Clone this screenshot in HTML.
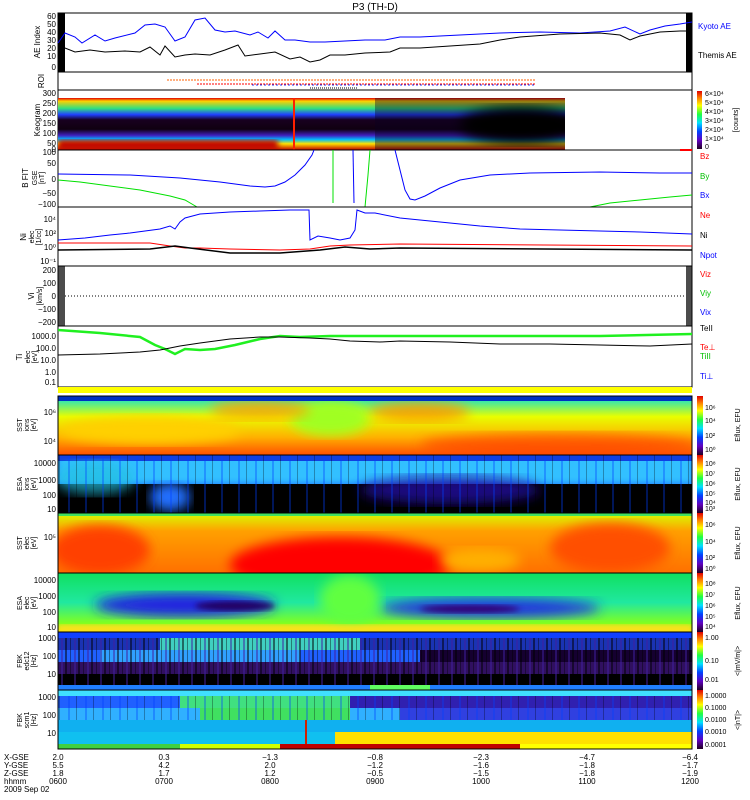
<!DOCTYPE html>
<html><head><meta charset="utf-8"><style>
body{margin:0;background:#fff;}
svg{display:block;font-family:"Liberation Sans",sans-serif;}
.l{font-size:8px;fill:#000;}
.t{font-size:8px;}
</style></head><body>
<svg width="750" height="800" xmlns="http://www.w3.org/2000/svg">
<defs>
<filter id="b6"><feGaussianBlur stdDeviation="6"/></filter>
<filter id="b3"><feGaussianBlur stdDeviation="3"/></filter>
<clipPath id="c1"><rect x="58" y="396" width="634" height="59"/></clipPath>
<clipPath id="c2"><rect x="58" y="455" width="634" height="58"/></clipPath>
<clipPath id="c3"><rect x="58" y="513" width="634" height="60"/></clipPath>
<clipPath id="c4"><rect x="58" y="573" width="634" height="59"/></clipPath>
<clipPath id="ck"><rect x="58" y="98" width="507" height="52"/></clipPath>
<pattern id="st" width="13" height="10" patternUnits="userSpaceOnUse"><rect x="0" y="0" width="2" height="10" fill="#000" opacity="0.5"/><rect x="5" y="0" width="1" height="10" fill="#000" opacity="0.4"/><rect x="9" y="0" width="2" height="10" fill="#4020a0" opacity="0.5"/></pattern>
<pattern id="st2" width="17" height="10" patternUnits="userSpaceOnUse"><rect x="0" y="0" width="2" height="10" fill="#0040ff" opacity="0.35"/><rect x="8" y="0" width="1" height="10" fill="#000" opacity="0.3"/></pattern>
<linearGradient id="g1" x1="0" y1="0" x2="0" y2="1"><stop offset="0" stop-color="#00e0e0"/><stop offset="0.35" stop-color="#e8ff00"/><stop offset="0.7" stop-color="#ffb000"/><stop offset="1" stop-color="#ff5000"/></linearGradient>
<linearGradient id="g3" x1="0" y1="0" x2="0" y2="1"><stop offset="0" stop-color="#d8ff00"/><stop offset="0.3" stop-color="#ffa000"/><stop offset="1" stop-color="#ff7000"/></linearGradient>
<linearGradient id="g4" x1="0" y1="0" x2="0" y2="1"><stop offset="0" stop-color="#10e060"/><stop offset="0.5" stop-color="#20e8a0"/><stop offset="0.85" stop-color="#80ff20"/><stop offset="1" stop-color="#ffe000"/></linearGradient>
<linearGradient id="gk" x1="0" y1="0" x2="0" y2="1"><stop offset="0" stop-color="#e00000"/><stop offset="0.06" stop-color="#ffd000"/><stop offset="0.2" stop-color="#30e080"/><stop offset="0.32" stop-color="#2040ff"/><stop offset="0.42" stop-color="#180020"/><stop offset="0.6" stop-color="#100010"/><stop offset="0.72" stop-color="#4020c0"/><stop offset="0.8" stop-color="#00c0ff"/><stop offset="0.88" stop-color="#ffe000"/><stop offset="1" stop-color="#c00000"/></linearGradient>
<linearGradient id="cb" x1="0" y1="1" x2="0" y2="0"><stop offset="0" stop-color="#200020"/><stop offset="0.15" stop-color="#6000c0"/><stop offset="0.3" stop-color="#0040ff"/><stop offset="0.45" stop-color="#00e0ff"/><stop offset="0.6" stop-color="#20ff40"/><stop offset="0.75" stop-color="#ffff00"/><stop offset="0.88" stop-color="#ff8000"/><stop offset="1" stop-color="#e00000"/></linearGradient>
</defs>

<text x="375" y="10" text-anchor="middle" style="font-size:10px">P3 (TH-D)</text>

<!-- AE panel -->
<rect x="58" y="13" width="634" height="59" fill="none" stroke="#000"/>
<rect x="58" y="13" width="7" height="59" fill="#000"/>
<rect x="686" y="13" width="6" height="59" fill="#000"/>
<polyline fill="none" stroke="#0000ff" stroke-width="1" points="58,43 65,33 75,37 82,43 95,35 105,41 115,38 135,33 145,25 155,24 165,27 175,41 185,37 195,20 205,18 215,30 225,32 235,31 250,35 258,32 268,38 275,31 285,40 295,40 310,42 325,42 345,41 365,40 385,40 400,37 420,37 440,36 460,35 500,33 540,32 580,33 610,31 625,27 640,34 650,30 665,26 680,24 692,22"/>
<polyline fill="none" stroke="#000" stroke-width="1" points="58,50 65,48 75,52 90,50 105,52 125,51 140,52 150,47 160,55 165,46 175,57 185,55 195,54 210,55 225,50 238,45 245,56 260,54 275,52 290,59 300,57 310,62 320,60 330,55 345,55 365,53 390,52 400,48 420,48 450,46 480,44 500,40 520,37 560,34 600,33 620,35 630,40 640,36 660,32 680,31 692,31"/>
<g class="l" text-anchor="end"><text x="56" y="19">60</text><text x="56" y="27">50</text><text x="56" y="35">40</text><text x="56" y="43">30</text><text x="56" y="51">20</text><text x="56" y="59">10</text><text x="56" y="70">0</text></g>
<text class="l" transform="translate(40,42) rotate(-90)" text-anchor="middle">AE Index</text>
<text x="698" y="29" class="t" fill="#0000ff">Kyoto AE</text>
<text x="698" y="58" class="t" fill="#000">Themis AE</text>

<!-- ROI -->
<rect x="58" y="72" width="634" height="18" fill="none" stroke="#000"/>
<line x1="167" y1="80" x2="535" y2="80" stroke="#ff6000" stroke-dasharray="2,1"/>
<line x1="197" y1="84" x2="535" y2="84" stroke="#ff0000" stroke-dasharray="2,1"/>
<line x1="252" y1="85" x2="535" y2="85" stroke="#2040ff" stroke-dasharray="2,2"/>
<line x1="310" y1="88" x2="357" y2="88" stroke="#000" stroke-dasharray="1,1"/>
<text class="l" transform="translate(44,81) rotate(-90)" text-anchor="middle">ROI</text>

<!-- Keogram -->
<rect x="58" y="90" width="634" height="60" fill="none" stroke="#000"/>
<rect x="58" y="98" width="507" height="52" fill="url(#gk)"/>
<g clip-path="url(#ck)">
<rect x="58" y="140" width="220" height="10" fill="#c00000" filter="url(#b3)"/>
<rect x="375" y="98" width="190" height="52" fill="#0a0020" opacity="0.4"/>
<ellipse cx="520" cy="125" rx="60" ry="18" fill="#000" filter="url(#b6)"/>
</g>
<rect x="293" y="98" width="2" height="52" fill="#ff2000"/>
<g class="l" text-anchor="end"><text x="56" y="96">300</text><text x="56" y="106">250</text><text x="56" y="116">200</text><text x="56" y="126">150</text><text x="56" y="136">100</text><text x="56" y="146">50</text><text x="56" y="152">0</text></g>
<text class="l" transform="translate(40,120) rotate(-90)" text-anchor="middle">Keogram</text>
<rect x="697" y="91" width="5" height="58" fill="url(#cb)"/>
<g class="t" style="font-size:7px"><text x="705" y="96">6×10⁴</text><text x="705" y="105">5×10⁴</text><text x="705" y="114">4×10⁴</text><text x="705" y="123">3×10⁴</text><text x="705" y="132">2×10⁴</text><text x="705" y="141">1×10⁴</text><text x="705" y="149">0</text></g>
<text class="t" style="font-size:7px" transform="translate(738,120) rotate(-90)" text-anchor="middle">[counts]</text>

<!-- B -->
<rect x="58" y="150" width="634" height="57" fill="none" stroke="#000"/>
<line x1="680" y1="150" x2="692" y2="150" stroke="#ff0000" stroke-width="2"/>
<polyline fill="none" stroke="#0000ff" points="58,174 130,175 180,178 220,182 250,186 265,187 275,186 285,182 295,175 305,165 312,155 314,150"/>
<polyline fill="none" stroke="#0000ff" points="395,150 400,170 405,190 410,199 415,200 425,196 440,188 460,180 490,175 530,173 600,172 660,173 692,173"/>
<line x1="353" y1="150" x2="354" y2="203" stroke="#0000ff"/>
<polyline fill="none" stroke="#00e000" points="58,180 80,182 110,186 140,190 170,196 185,200 197,207"/>
<line x1="333" y1="150" x2="333" y2="203" stroke="#00e000"/>
<polyline fill="none" stroke="#00e000" points="365,207 368,175 370,150"/>
<polyline fill="none" stroke="#00e000" points="590,207 610,203 640,200 670,197 692,195"/>
<g class="l" text-anchor="end"><text x="56" y="155">100</text><text x="56" y="166">50</text><text x="56" y="182">0</text><text x="56" y="196">−50</text><text x="56" y="207">−100</text></g>
<text class="l" transform="translate(28,178) rotate(-90)" text-anchor="middle">B FIT</text>
<text class="l" style="font-size:7px" transform="translate(37,178) rotate(-90)" text-anchor="middle">GSE</text>
<text class="l" style="font-size:7px" transform="translate(44,178) rotate(-90)" text-anchor="middle">[nT]</text>
<text x="700" y="159" class="t" fill="#ff0000">Bz</text>
<text x="700" y="179" class="t" fill="#00c000">By</text>
<text x="700" y="198" class="t" fill="#0000ff">Bx</text>

<!-- Ni -->
<rect x="58" y="207" width="634" height="59" fill="none" stroke="#000"/>
<polyline fill="none" stroke="#0000ff" points="58,240 85,238 110,235 130,233 160,229 170,226 175,229 180,222 185,218 200,214 230,212 260,211 290,210 309,210 310,240 318,236 330,238 340,240 350,238 355,230 357,210 365,213 375,213 400,218 440,222 480,226 520,229 560,230 600,231 640,232 692,234"/>
<polyline fill="none" stroke="#ff0000" points="58,243 150,243 170,246 185,248 200,248 230,249 280,250 310,249 330,246 350,245 400,244 692,246"/>
<polyline fill="none" stroke="#000" stroke-width="1.5" points="58,250 150,249 175,246 190,248 230,253 280,253 320,250 345,247 370,249 400,248 692,250"/>
<g class="l" text-anchor="end"><text x="56" y="222">10⁴</text><text x="56" y="236">10²</text><text x="56" y="250">10⁰</text><text x="56" y="264">10⁻¹</text></g>
<text class="l" transform="translate(26,237) rotate(-90)" text-anchor="middle">Ni</text>
<text class="l" style="font-size:7px" transform="translate(34,237) rotate(-90)" text-anchor="middle">elec</text>
<text class="l" style="font-size:7px" transform="translate(41,237) rotate(-90)" text-anchor="middle">[1/cc]</text>
<text x="700" y="218" class="t" fill="#ff0000">Ne</text>
<text x="700" y="238" class="t" fill="#000">Ni</text>
<text x="700" y="258" class="t" fill="#0000ff">Npot</text>

<!-- Vi -->
<rect x="58" y="266" width="634" height="60" fill="none" stroke="#000"/>
<rect x="58" y="266" width="7" height="60" fill="#000" opacity="0.7"/>
<rect x="686" y="266" width="6" height="60" fill="#000" opacity="0.7"/>
<line x1="65" y1="296" x2="686" y2="296" stroke="#000" stroke-dasharray="1,2"/>
<g class="l" text-anchor="end"><text x="56" y="273">200</text><text x="56" y="286">100</text><text x="56" y="299">0</text><text x="56" y="312">−100</text><text x="56" y="325">−200</text></g>
<text class="l" transform="translate(34,296) rotate(-90)" text-anchor="middle">Vi</text>
<text class="l" style="font-size:7px" transform="translate(42,296) rotate(-90)" text-anchor="middle">[km/s]</text>
<text x="700" y="277" class="t" fill="#ff0000">Viz</text>
<text x="700" y="296" class="t" fill="#00c000">Viy</text>
<text x="700" y="315" class="t" fill="#0000ff">Vix</text>

<!-- Ti -->
<rect x="58" y="326" width="634" height="61" fill="none" stroke="#000"/>
<polyline fill="none" stroke="#20f020" stroke-width="2.5" points="58,330 100,333 140,337 155,345 165,349 175,354 185,349 200,350 215,349 235,345 260,339 280,336 300,337 330,336 370,336 420,336 500,336 600,336 692,334"/>
<polyline fill="none" stroke="#000" points="58,355 100,354 140,352 160,350 170,348 180,346 200,343 230,339 260,337 280,337 310,338 330,339 350,341 380,342 400,341 450,342 500,344 550,344 600,345 650,346 692,344"/>
<g class="l" text-anchor="end"><text x="56" y="339">1000.0</text><text x="56" y="351">100.0</text><text x="56" y="363">10.0</text><text x="56" y="375">1.0</text><text x="56" y="385">0.1</text></g>
<text class="l" transform="translate(22,357) rotate(-90)" text-anchor="middle">Ti</text>
<text class="l" style="font-size:7px" transform="translate(30,357) rotate(-90)" text-anchor="middle">elec</text>
<text class="l" style="font-size:7px" transform="translate(37,357) rotate(-90)" text-anchor="middle">[eV]</text>
<text x="700" y="331" class="t" fill="#000">TeII</text>
<text x="700" y="350" class="t" fill="#ff0000">Te⊥</text>
<text x="700" y="359" class="t" fill="#00c000">TiII</text>
<text x="700" y="379" class="t" fill="#0000ff">Ti⊥</text>

<rect x="58" y="387" width="634" height="6" fill="#ffff00"/>

<!-- SST1 -->
<g clip-path="url(#c1)">
<rect x="58" y="396" width="634" height="59" fill="url(#g1)"/>
<ellipse cx="150" cy="430" rx="90" ry="14" fill="#ffd000" filter="url(#b6)"/>
<ellipse cx="330" cy="418" rx="40" ry="18" fill="#a0ff20" filter="url(#b6)"/>
<ellipse cx="260" cy="410" rx="50" ry="10" fill="#ffa000" filter="url(#b6)" opacity="0.8"/>
<ellipse cx="420" cy="412" rx="50" ry="10" fill="#ff9000" filter="url(#b6)" opacity="0.8"/>
<ellipse cx="560" cy="445" rx="140" ry="12" fill="#ff4000" filter="url(#b6)" opacity="0.7"/>
<rect x="58" y="396" width="634" height="5" fill="#0030c0"/>
</g>
<rect x="58" y="396" width="634" height="59" fill="none" stroke="#000"/>

<!-- ESA1 -->
<g clip-path="url(#c2)">
<rect x="58" y="455" width="634" height="58" fill="#2080ff"/>
<rect x="58" y="455" width="634" height="28" fill="#30c0ff" filter="url(#b3)"/>
<rect x="58" y="455" width="634" height="6" fill="#1040e0"/>
<rect x="58" y="484" width="634" height="29" fill="#000"/>
<ellipse cx="95" cy="478" rx="40" ry="16" fill="#20c0e0" filter="url(#b6)" opacity="0.7"/>
<ellipse cx="170" cy="497" rx="20" ry="14" fill="#2070ff" filter="url(#b6)"/>
<ellipse cx="450" cy="490" rx="90" ry="14" fill="#2010a0" filter="url(#b6)" opacity="0.8"/>
<rect x="58" y="455" width="634" height="58" fill="url(#st2)"/>
</g>
<rect x="58" y="455" width="634" height="58" fill="none" stroke="#000"/>

<!-- SST2 -->
<g clip-path="url(#c3)">
<rect x="58" y="513" width="634" height="60" fill="url(#g3)"/>
<ellipse cx="340" cy="565" rx="110" ry="28" fill="#ff0000" filter="url(#b6)"/>
<ellipse cx="100" cy="550" rx="50" ry="25" fill="#ff4000" filter="url(#b6)"/>
<ellipse cx="610" cy="548" rx="60" ry="25" fill="#ff5000" filter="url(#b6)"/>
<ellipse cx="480" cy="560" rx="40" ry="12" fill="#ffb000" filter="url(#b6)"/>
<rect x="58" y="513" width="634" height="3" fill="#40e060"/>
</g>
<rect x="58" y="513" width="634" height="60" fill="none" stroke="#000"/>

<!-- ESA2 -->
<g clip-path="url(#c4)">
<rect x="58" y="573" width="634" height="59" fill="url(#g4)"/>
<ellipse cx="185" cy="605" rx="90" ry="12" fill="#2020e0" filter="url(#b6)"/>
<ellipse cx="235" cy="606" rx="40" ry="5" fill="#200060" filter="url(#b3)"/>
<ellipse cx="490" cy="608" rx="110" ry="10" fill="#2030e0" filter="url(#b6)"/>
<ellipse cx="470" cy="609" rx="50" ry="4" fill="#300070" filter="url(#b3)"/>
<ellipse cx="350" cy="600" rx="30" ry="25" fill="#60ff40" filter="url(#b6)"/>
<rect x="58" y="625" width="634" height="7" fill="#ffe020" filter="url(#b3)"/>
</g>
<rect x="58" y="573" width="634" height="59" fill="none" stroke="#000"/>

<!-- FBK1 -->
<rect x="58" y="632" width="634" height="58" fill="#000"/>
<rect x="58" y="632" width="634" height="6" fill="#1040ff"/>
<rect x="58" y="638" width="634" height="12" fill="#2040e0" opacity="0.8"/>
<rect x="160" y="638" width="200" height="12" fill="#40d0c0"/>
<rect x="58" y="650" width="634" height="12" fill="#2060ff"/>
<rect x="100" y="650" width="200" height="12" fill="#30a0ff"/>
<rect x="420" y="650" width="272" height="12" fill="#150030"/>
<rect x="58" y="662" width="634" height="12" fill="#301060"/>
<rect x="58" y="638" width="634" height="47" fill="url(#st)"/>
<rect x="58" y="685" width="634" height="5" fill="#2080ff"/>
<rect x="370" y="685" width="60" height="5" fill="#60ff60"/>
<rect x="58" y="632" width="634" height="58" fill="none" stroke="#000"/>

<!-- FBK2 -->
<rect x="58" y="690" width="634" height="59" fill="#20c0ff"/>
<rect x="58" y="690" width="634" height="6" fill="#40e0ff"/>
<rect x="58" y="696" width="634" height="12" fill="#2060ff"/>
<rect x="180" y="696" width="170" height="12" fill="#40e080"/>
<rect x="350" y="696" width="342" height="12" fill="#3020b0"/>
<rect x="58" y="708" width="634" height="12" fill="#30b0ff"/>
<rect x="200" y="708" width="150" height="12" fill="#40e060"/>
<rect x="400" y="708" width="292" height="12" fill="#3040e0"/>
<rect x="58" y="720" width="634" height="12" fill="#10b0f0"/>
<rect x="58" y="732" width="634" height="12" fill="#10c0f0"/>
<rect x="335" y="732" width="357" height="12" fill="#ffe000"/>
<rect x="58" y="696" width="634" height="24" fill="url(#st2)"/>
<rect x="58" y="744" width="634" height="5" fill="#40d040"/>
<rect x="180" y="744" width="100" height="5" fill="#d0ff00"/>
<rect x="280" y="744" width="240" height="5" fill="#c00000"/>
<rect x="520" y="744" width="172" height="5" fill="#ffff00"/>
<rect x="305" y="720" width="2" height="24" fill="#d02000"/>
<rect x="58" y="690" width="634" height="59" fill="none" stroke="#000"/>

<!-- spectrogram labels -->
<g class="l" text-anchor="end">
<text x="56" y="415">10⁶</text><text x="56" y="444">10⁴</text>
<text x="56" y="466">10000</text><text x="56" y="483">1000</text><text x="56" y="498">100</text><text x="56" y="512">10</text>
<text x="56" y="540">10⁵</text>
<text x="56" y="583">10000</text><text x="56" y="599">1000</text><text x="56" y="615">100</text><text x="56" y="630">10</text>
<text x="56" y="641">1000</text><text x="56" y="659">100</text><text x="56" y="677">10</text>
<text x="56" y="700">1000</text><text x="56" y="718">100</text><text x="56" y="736">10</text>
</g>
<g class="l" style="font-size:7px" text-anchor="middle">
<text transform="translate(22,425) rotate(-90)">SST</text><text transform="translate(29,425) rotate(-90)">ions</text><text transform="translate(36,425) rotate(-90)">[eV]</text>
<text transform="translate(22,484) rotate(-90)">ESA</text><text transform="translate(29,484) rotate(-90)">ions</text><text transform="translate(36,484) rotate(-90)">[eV]</text>
<text transform="translate(22,543) rotate(-90)">SST</text><text transform="translate(29,543) rotate(-90)">elec</text><text transform="translate(36,543) rotate(-90)">[eV]</text>
<text transform="translate(22,603) rotate(-90)">ESA</text><text transform="translate(29,603) rotate(-90)">elec</text><text transform="translate(36,603) rotate(-90)">[eV]</text>
<text transform="translate(22,661) rotate(-90)">FBK</text><text transform="translate(29,661) rotate(-90)">edc12</text><text transform="translate(36,661) rotate(-90)">[Hz]</text>
<text transform="translate(22,720) rotate(-90)">FBK</text><text transform="translate(29,720) rotate(-90)">scm1</text><text transform="translate(36,720) rotate(-90)">[Hz]</text>
</g>

<!-- colorbars -->
<g>
<rect x="697" y="396" width="6" height="59" fill="url(#cb)"/>
<rect x="697" y="455" width="6" height="58" fill="url(#cb)"/>
<rect x="697" y="513" width="6" height="60" fill="url(#cb)"/>
<rect x="697" y="573" width="6" height="59" fill="url(#cb)"/>
<rect x="697" y="632" width="6" height="58" fill="url(#cb)"/>
<rect x="697" y="690" width="6" height="59" fill="url(#cb)"/>
</g>
<g class="t" style="font-size:7px">
<text x="705" y="410">10⁶</text><text x="705" y="423">10⁴</text><text x="705" y="438">10²</text><text x="705" y="452">10⁰</text>
<text x="705" y="466">10⁸</text><text x="705" y="476">10⁷</text><text x="705" y="486">10⁶</text><text x="705" y="496">10⁵</text><text x="705" y="505">10⁴</text><text x="705" y="511">10³</text>
<text x="705" y="527">10⁶</text><text x="705" y="544">10⁴</text><text x="705" y="560">10²</text><text x="705" y="571">10⁰</text>
<text x="705" y="586">10⁸</text><text x="705" y="597">10⁷</text><text x="705" y="608">10⁶</text><text x="705" y="619">10⁵</text><text x="705" y="629">10⁴</text>
<text x="705" y="640">1.00</text><text x="705" y="663">0.10</text><text x="705" y="682">0.01</text>
<text x="705" y="698">1.0000</text><text x="705" y="710">0.1000</text><text x="705" y="722">0.0100</text><text x="705" y="734">0.0010</text><text x="705" y="747">0.0001</text>
</g>
<g class="t" style="font-size:7px" text-anchor="middle">
<text transform="translate(740,425) rotate(-90)">Eflux, EFU</text>
<text transform="translate(740,484) rotate(-90)">Eflux, EFU</text>
<text transform="translate(740,543) rotate(-90)">Eflux, EFU</text>
<text transform="translate(740,603) rotate(-90)">Eflux, EFU</text>
<text transform="translate(740,661) rotate(-90)">&lt;|mV/m|&gt;</text>
<text transform="translate(740,720) rotate(-90)">&lt;|nT|&gt;</text>
</g>

<!-- bottom axis labels -->
<g class="l" text-anchor="middle">
<text x="58" y="760">2.0</text><text x="164" y="760">0.3</text><text x="270" y="760">−1.3</text><text x="375" y="760">−0.8</text><text x="481" y="760">−2.3</text><text x="587" y="760">−4.7</text><text x="690" y="760">−6.4</text>
<text x="58" y="768">5.5</text><text x="164" y="768">4.2</text><text x="270" y="768">2.0</text><text x="375" y="768">−1.2</text><text x="481" y="768">−1.6</text><text x="587" y="768">−1.8</text><text x="690" y="768">−1.7</text>
<text x="58" y="776">1.8</text><text x="164" y="776">1.7</text><text x="270" y="776">1.2</text><text x="375" y="776">−0.5</text><text x="481" y="776">−1.5</text><text x="587" y="776">−1.8</text><text x="690" y="776">−1.9</text>
<text x="58" y="784">0600</text><text x="164" y="784">0700</text><text x="270" y="784">0800</text><text x="375" y="784">0900</text><text x="481" y="784">1000</text><text x="587" y="784">1100</text><text x="690" y="784">1200</text>
</g>
<g class="l">
<text x="4" y="760">X-GSE</text><text x="4" y="768">Y-GSE</text><text x="4" y="776">Z-GSE</text><text x="4" y="784">hhmm</text><text x="4" y="792">2009 Sep 02</text>
</g>
</svg>
</body></html>
